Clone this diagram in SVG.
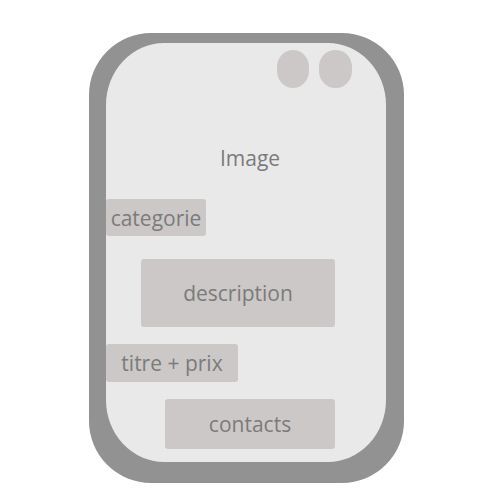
<svg xmlns="http://www.w3.org/2000/svg" width="500" height="500" viewBox="0 0 500 500">
  <style>
    .box { fill: #cbc8c7; }
    .lbl { font-family: "Open Sans", "Noto Sans", sans-serif; font-size: 21px; fill: #7b7b7b; }
  </style>
  <rect width="500" height="500" fill="#ffffff"/>
  <g id="phone">
    <rect x="89" y="33" width="315" height="450" rx="62" ry="62" fill="#929292"/>
    <rect x="106" y="43" width="280" height="419" rx="58" ry="62" fill="#e9e9e9"/>
  </g>
  <g id="buttons">
    <rect class="box" x="277" y="50" width="32" height="38" rx="16" ry="17"/>
    <rect class="box" x="319" y="50" width="33" height="38" rx="16" ry="17"/>
  </g>
  <g id="image">
    <text class="lbl" x="250" y="166" text-anchor="middle">Image</text>
  </g>
  <g id="categorie">
    <rect class="box" x="106" y="199" width="100" height="37" rx="3"/>
    <text class="lbl" x="156" y="226" text-anchor="middle">categorie</text>
  </g>
  <g id="description">
    <rect class="box" x="141" y="259" width="194" height="68" rx="3"/>
    <text class="lbl" x="238" y="301" text-anchor="middle">description</text>
  </g>
  <g id="titre-prix">
    <rect class="box" x="106" y="344" width="132" height="38" rx="3"/>
    <text class="lbl" x="172" y="371" text-anchor="middle">titre + prix</text>
  </g>
  <g id="contacts">
    <rect class="box" x="165" y="399" width="170" height="50" rx="3"/>
    <text class="lbl" x="250" y="432" text-anchor="middle">contacts</text>
  </g>
</svg>
